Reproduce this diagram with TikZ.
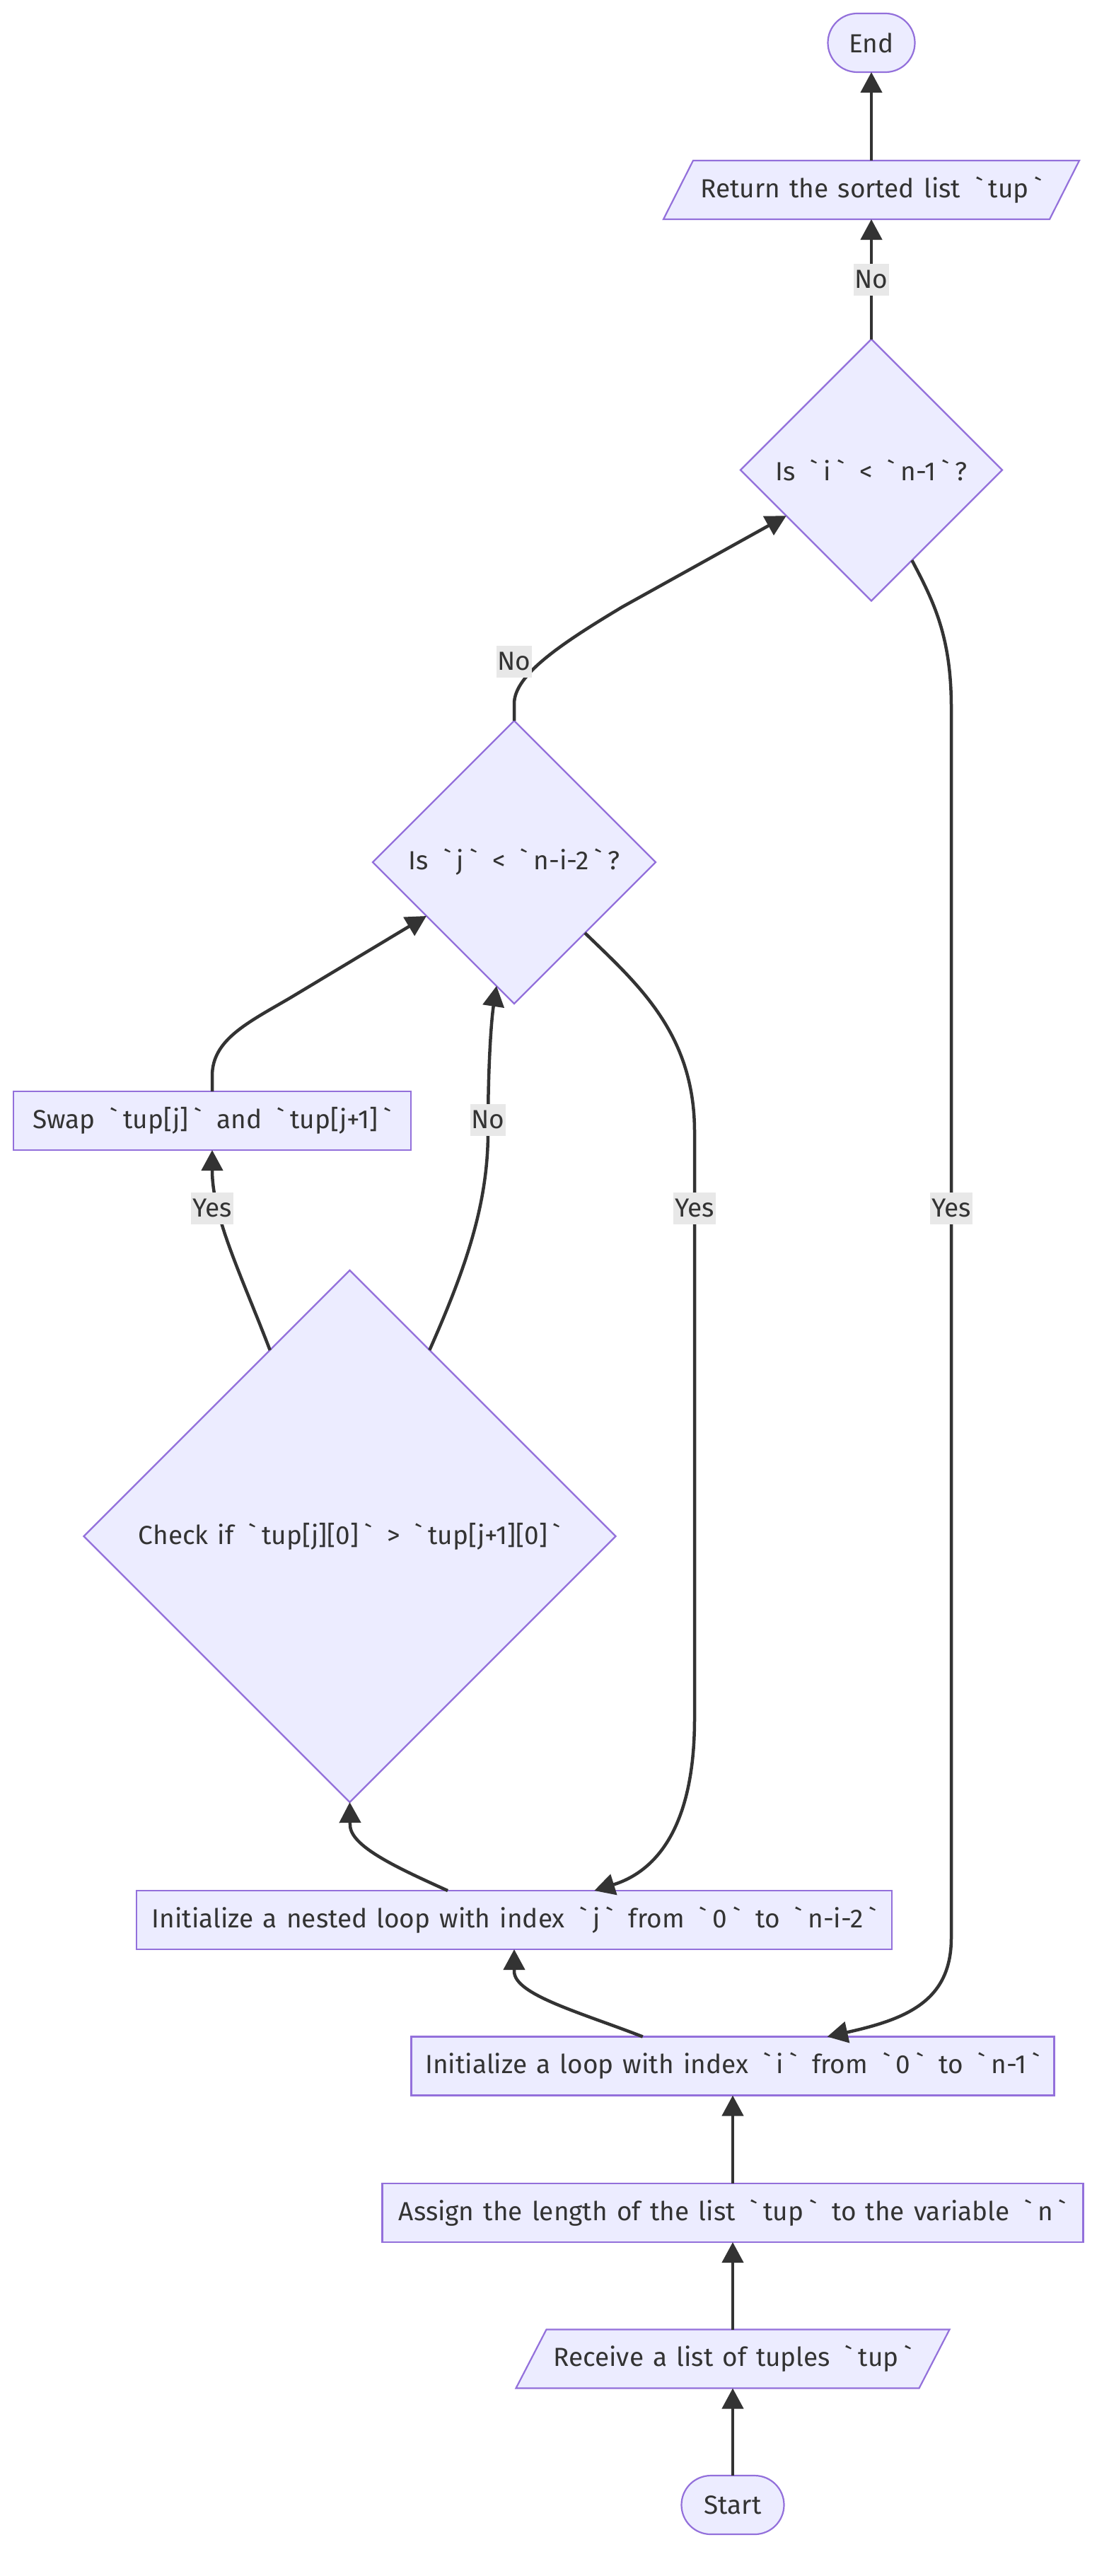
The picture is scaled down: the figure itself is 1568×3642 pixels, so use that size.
\documentclass[tikz,border=0pt]{standalone}
\usepackage{fontspec}
\newfontfamily\chartfont{Fira Sans}
\usetikzlibrary{shapes.geometric,arrows.meta,calc}
\definecolor{nodefill}{HTML}{ECECFF}
\definecolor{nodeline}{HTML}{9370DB}
\definecolor{ink}{HTML}{333333}
\definecolor{lblfill}{HTML}{E8E8E8}
\pgfdeclarelayer{bg}
\pgfsetlayers{bg,main}
% a backtick set with a little air on both sides
\newcommand\bq{\hspace{0.21em}`\hspace{0.21em}}
\newcommand\chartsize{\fontsize{37}{44}\selectfont
  \spaceskip=\dimexpr\fontdimen2\font+3.4pt\relax}
\begin{document}
\begin{tikzpicture}[x=1pt,y=-1pt,
  every node/.style={font=\chartfont\chartsize, text=ink},
  box/.style={rectangle, draw=nodeline, fill=nodefill, line width=2.2pt,
    minimum height=83pt, inner sep=0pt, outer sep=0pt},
  term/.style={box, rounded corners=41.5pt},
  para/.style={rectangle, minimum height=83pt, inner sep=0pt, outer sep=0pt},
  paraedge/.style={draw=nodeline, fill=nodefill, line width=2.2pt},
  choice/.style={diamond, draw=nodeline, fill=nodefill, line width=2.2pt,
    inner sep=0pt, outer sep=0pt, aspect=1},
  flow/.style={draw=ink, line width=4.5pt, -{Triangle[length=29pt,width=30pt]}},
  lbl/.style={fill=lblfill, inner xsep=2pt, inner ysep=0pt, minimum height=45pt},
]
\useasboundingbox (0,0) rectangle (1568,3642);

% nodes, bottom to top
\node[term, minimum width=145pt] (start) at (1036,3541.5) {Start};
\node[para, minimum width=570pt] (recv) at (1036,3335) {Receive a list of tuples \bq tup\bq};
\node[box, minimum width=991pt] (assign) at (1036,3128.5) {Assign the length of the list \bq tup\bq\ to the variable \bq n\bq};
\node[box, minimum width=909pt] (loopi) at (1036,2921) {Initialize a loop with index \bq i\bq\ from \bq 0\bq\ to \bq n-1\bq};
\node[box, minimum width=1068pt] (nested) at (727,2714.5) {Initialize a nested loop with index \bq j\bq\ from \bq 0\bq\ to \bq n-i-2\bq};
\node[choice, minimum width=752pt, minimum height=752pt] (chk) at (494.5,2172) {Check if \bq tup[j][0]\bq\ > \bq tup[j+1][0]\bq};
\node[box, minimum width=562pt] (swap) at (300,1584.5) {Swap \bq tup[j]\bq\ and \bq tup[j+1]\bq};
\node[choice, minimum width=400pt, minimum height=400pt] (dj) at (727,1219) {Is \bq j\bq\ < \bq n-i-2\bq ?};
\node[choice, minimum width=370pt, minimum height=370pt] (di) at (1232,664.5) {Is \bq i\bq\ < \bq n-1\bq ?};
\node[para, minimum width=546pt] (ret) at (1232,268.5) {Return the sorted list \bq tup\bq};
\node[term, minimum width=123pt] (stop) at (1232,60.5) {End};

% background and slanted input/output boxes
\begin{pgfonlayer}{bg}
\fill[white] (0,0) rectangle (1568,3642);
\path[paraedge] ($(recv.south west)+(-21.5,0)$) -- ($(recv.north west)+(21.5,0)$)
  -- ($(recv.north east)+(21.5,0)$) -- ($(recv.south east)+(-21.5,0)$) -- cycle;
\path[paraedge] ($(ret.south west)+(-21,0)$) -- ($(ret.north west)+(21,0)$)
  -- ($(ret.north east)+(21,0)$) -- ($(ret.south east)+(-21,0)$) -- cycle;
\end{pgfonlayer}

% connectors
\draw[flow] (start.north) -- (recv.south);
\draw[flow] (recv.north) -- (assign.south);
\draw[flow] (assign.north) -- (loopi.south);
\draw[flow] ($(loopi.north west)!0.36!(loopi.north east)$)
  .. controls (820,2845) and (727,2820) .. (727,2787) -- (nested.south);
\draw[flow] ($(nested.north west)!0.412!(nested.north east)$)
  .. controls (560,2640) and (495,2610) .. (495,2580) -- (chk.south);
\draw[flow] ($(chk.north)!0.3!(chk.west)$)
  .. controls (340,1800) and (300,1720) .. (swap.south);
\draw[flow] ($(chk.north)!0.3!(chk.east)$)
  .. controls (660,1790) and (690,1700) .. (690,1600)
  .. controls (690,1500) and (695,1440) .. ($(dj.west)!0.875!(dj.south)$);
\draw[flow] (swap.north) -- ++(0,-22)
  .. controls (300,1470) and (350,1446) .. (410,1411) -- ($(dj.west)!0.38!(dj.south)$);
\draw[flow] ($(dj.south)!0.5!(dj.east)$)
  .. controls (900,1390) and (982,1460) .. (982,1600) -- (982,2430)
  .. controls (982,2580) and (930,2645) .. ($(nested.north west)!0.606!(nested.north east)$);
\draw[flow] (dj.north) -- ++(0,-24)
  .. controls (727,955) and (790,912) .. (880,858) -- ($(di.west)!0.35!(di.south)$);
\draw[flow] ($(di.south)!0.31!(di.east)$)
  .. controls (1320,850) and (1345,900) .. (1345,1000) -- (1345,2740)
  .. controls (1345,2830) and (1280,2855) .. ($(loopi.north west)!0.647!(loopi.north east)$);
\draw[flow] (di.north) -- (ret.south);
\draw[flow] (ret.north) -- (stop.south);

% branch labels
\node[lbl] (noRet) at (1232,395) {No};
\node[lbl] (noOuter) at (727,935) {No};
\node[lbl] (yesSwap) at (300,1708) {Yes};
\node[lbl] (noSwap) at (690,1583) {No};
\node[lbl] (yesInner) at (982,1708) {Yes};
\node[lbl] (yesOuter) at (1345,1708) {Yes};
\end{tikzpicture}
\end{document}
